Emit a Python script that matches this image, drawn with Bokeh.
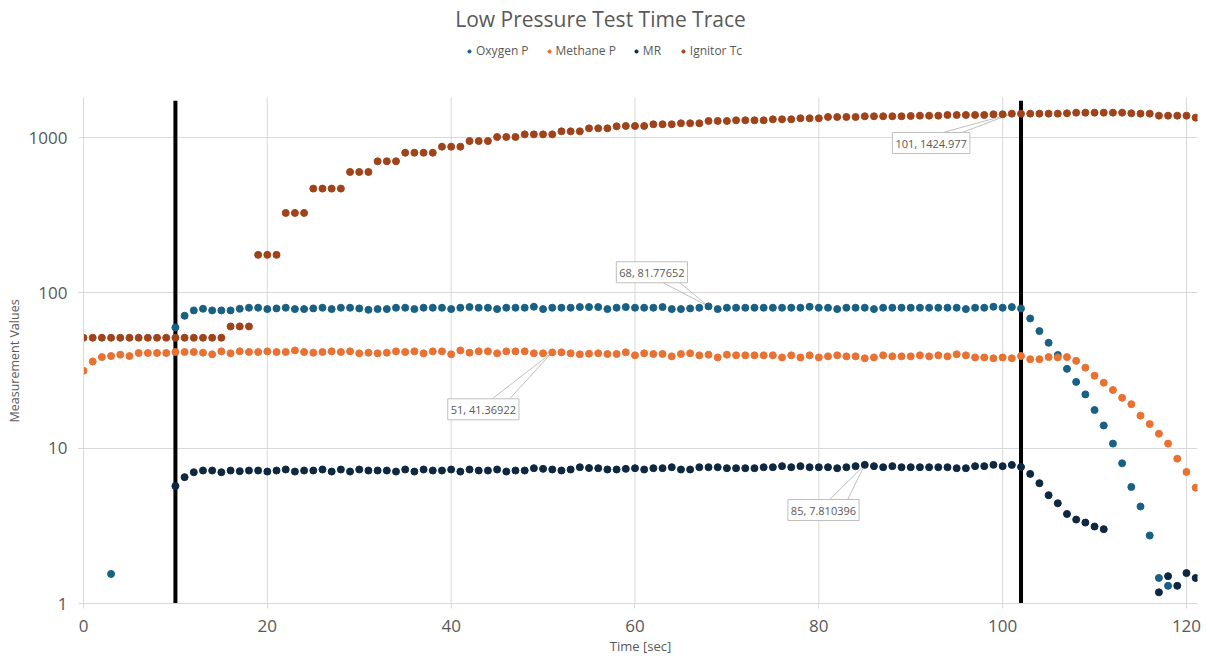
import numpy as np
from bokeh.plotting import figure
from bokeh.models import (FixedTicker, Label, Legend, LegendItem, ColumnDataSource, Title)
from bokeh.embed import file_html
from bokeh.resources import INLINE

nan = float("nan")

# ---------------- data ----------------
time_sec = list(range(122))

oxygen_p = [nan, nan, nan, 1.55, nan, nan, nan, nan, nan, nan,
            59.9, 71.2, 77.1, 79.0, 77.1, 77.1, 77.1, 79.0, 80.2, 80.2,
            78.6, 79.4, 80.2, 78.6, 78.6, 79.4, 80.2, 78.6, 80.2, 80.2,
            79.4, 77.8, 78.6, 78.6, 80.2, 80.2, 78.6, 80.2, 80.2, 80.2,
            78.6, 80.2, 81.0, 80.2, 80.2, 78.6, 80.2, 80.2, 80.2, 81.4,
            78.6, 80.2, 80.2, 80.2, 81.0, 81.0, 81.0, 78.6, 80.2, 81.0,
            80.2, 80.2, 80.2, 81.0, 78.6, 78.6, 79.4, 80.2, 81.77652, 78.6,
            80.2, 80.2, 80.2, 80.2, 80.2, 80.2, 80.2, 80.2, 80.2, 81.4,
            80.2, 80.2, 78.6, 80.2, 80.2, 80.2, 78.6, 80.2, 80.2, 80.2,
            80.2, 80.2, 80.2, 80.2, 80.2, 80.2, 78.6, 80.2, 80.2, 81.4,
            80.2, 81.0, 79.3, 68.4, 56.7, 47.7, 39.8, 32.4, 26.7, 22.2,
            17.6, 14.0, 10.7, 7.99, 5.63, 4.21, 2.74, 1.46, 1.30, nan,
            nan, nan]

methane_p = [31.5, 36.2, 38.6, 39.2, 40.0, 39.2, 41.0, 41.0, 41.0, 41.0,
             41.6, 41.6, 41.6, 41.2, 40.2, 42.0, 40.8, 42.0, 41.6, 41.6,
             42.0, 41.6, 41.6, 42.6, 41.6, 41.2, 41.6, 42.0, 41.6, 42.0,
             40.8, 41.2, 40.8, 41.2, 42.0, 41.6, 42.0, 40.8, 42.0, 42.0,
             40.2, 42.6, 41.2, 42.0, 42.0, 40.8, 42.0, 42.0, 42.0, 40.8,
             40.8, 41.36922, 41.4, 40.8, 40.2, 40.6, 40.8, 40.4, 40.4, 41.4,
             39.6, 40.8, 40.4, 40.4, 39.0, 40.4, 40.8, 39.6, 40.0, 38.4,
             40.0, 39.6, 39.6, 39.6, 39.6, 39.6, 38.4, 39.6, 38.4, 39.6,
             38.4, 39.0, 39.6, 39.0, 39.0, 37.9, 38.4, 39.6, 39.0, 39.0,
             39.0, 39.6, 39.0, 39.6, 39.0, 40.2, 39.6, 38.4, 38.4, 37.9,
             38.4, 37.9, 39.2, 37.4, 37.4, 38.6, 38.4, 38.6, 36.5, 33.0,
             29.3, 26.4, 23.7, 21.1, 19.2, 16.2, 14.3, 12.4, 10.7, 8.56,
             7.03, 5.57]

mr = [nan, nan, nan, nan, nan, nan, nan, nan, nan, nan,
      5.70, 6.51, 7.00, 7.18, 7.18, 7.00, 7.18, 7.11, 7.18, 7.18,
      7.07, 7.18, 7.29, 7.07, 7.18, 7.18, 7.29, 7.07, 7.29, 7.07,
      7.29, 7.18, 7.18, 7.18, 7.07, 7.29, 7.07, 7.29, 7.18, 7.18,
      7.29, 7.07, 7.29, 7.18, 7.18, 7.29, 7.07, 7.18, 7.18, 7.43,
      7.36, 7.29, 7.18, 7.29, 7.54, 7.45, 7.43, 7.29, 7.29, 7.36,
      7.43, 7.29, 7.43, 7.43, 7.54, 7.29, 7.29, 7.54, 7.54, 7.54,
      7.43, 7.43, 7.43, 7.43, 7.54, 7.54, 7.66, 7.54, 7.66, 7.54,
      7.54, 7.54, 7.43, 7.54, 7.66, 7.810396, 7.66, 7.54, 7.66, 7.54,
      7.54, 7.54, 7.54, 7.54, 7.54, 7.43, 7.43, 7.66, 7.66, 7.81,
      7.66, 7.80, 7.57, 6.83, 5.95, 4.98, 4.42, 3.77, 3.47, 3.32,
      3.13, 3.01, nan, nan, nan, nan, nan, 1.18, 1.50, 1.30,
      1.57, 1.46]

ignitor_tc = [51.4, 51.4, 51.4, 51.4, 51.4, 51.4, 51.4, 51.4, 51.4, 51.4,
              51.4, 51.4, 51.4, 51.4, 51.4, 51.4, 60.8, 60.8, 60.8, 175.6,
              175.6, 175.6, 327, 327, 327, 469, 469, 469, 469, 600,
              600, 600, 703, 703, 703, 798, 798, 798, 798, 873,
              873, 873, 949, 949, 949, 1008, 1008, 1008, 1048, 1048,
              1048, 1048, 1096, 1096, 1096, 1146, 1146, 1146, 1180, 1187,
              1187, 1187, 1217, 1217, 1217, 1235, 1235, 1235, 1278, 1278,
              1278, 1291, 1291, 1291, 1291, 1310, 1310, 1310, 1330, 1330,
              1330, 1356, 1356, 1356, 1356, 1370, 1370, 1370, 1370, 1370,
              1376, 1383, 1383, 1383, 1397, 1397, 1397, 1397, 1397, 1411,
              1411, 1424.977, 1425, 1425, 1425, 1425, 1425, 1432, 1446, 1446,
              1446, 1446, 1446, 1446, 1432, 1425, 1425, 1383, 1383, 1383,
              1383, 1343]

series_names = ["Oxygen P", "Methane P", "MR", "Ignitor Tc"]
series_colors = ["#196085", "#E97132", "#0E2841", "#A0431A"]

marker_times = [10, 102]

x_ticks = [0, 20, 40, 60, 80, 100, 120]
y_ticks = [1, 10, 100, 1000]

title_text = "Low Pressure Test Time Trace"
x_label = "Time [sec]"
y_label = "Measurement Values"

# data-label callouts: (time index, series index)
callouts = [(68, 0), (51, 1), (85, 2), (101, 3)]
# pixel offsets of box centre and of wedge base points from the point (screen px, +y down)
callout_box = [(-56.6, -34.2), (-68.9, 56.9), (-41.3, 45.2), (-80.7, 29.4)]
callout_base = [((-48.6, -25.3), (-30.6, -25.3)),
                ((-62.2, 48.1), (-44.2, 48.1)),
                ((-37.0, 36.5), (-18.0, 36.5)),
                ((-72.2, 19.8), (-52.2, 19.8))]

# ---------------- figure ----------------
X_MAX = 121.2
Y_MIN, Y_PLOT_MAX = 1, 1810
W, H = 1206, 659
BL, BR, BT, BB = 83, 9, 0, 56
FRAME_W = W - BL - BR
FRAME_H = H - BT - BB
HEADER = 97                     # px above plot area reserved for title + legend
PLOT_H = FRAME_H - HEADER
px_per_x = FRAME_W / X_MAX
px_per_dec = PLOT_H / (np.log10(Y_PLOT_MAX) - np.log10(Y_MIN))
Y_FRAME_MAX = 10 ** (np.log10(Y_MIN) + FRAME_H / px_per_dec)

FONT = "Open Sans"
GREY = "#595959"
GRID = "#d9d9d9"

p = figure(width=W, height=H, x_range=(0, X_MAX), y_range=(Y_MIN, Y_FRAME_MAX),
           y_axis_type="log", output_backend="svg", toolbar_location=None,
           min_border_left=BL, min_border_right=BR, min_border_bottom=BB,
           min_border_top=BT)
p.title.visible = False

p.outline_line_color = None
p.background_fill_color = "white"
p.border_fill_color = "white"

p.xgrid.visible = False
p.ygrid.ticker = FixedTicker(ticks=y_ticks)
p.ygrid.grid_line_color = GRID
p.ygrid.grid_line_width = 1
p.ygrid.minor_grid_line_color = None
# vertical grid lines limited to the plot area
p.segment(x0=x_ticks, y0=[Y_MIN] * len(x_ticks), x1=x_ticks,
          y1=[Y_PLOT_MAX] * len(x_ticks), line_color=GRID, line_width=1)

p.xaxis.ticker = FixedTicker(ticks=x_ticks)
p.yaxis.ticker = FixedTicker(ticks=y_ticks)
p.yaxis.major_label_overrides = {t: str(t) for t in y_ticks}
p.yaxis.bounds = (Y_MIN, Y_PLOT_MAX)

for ax in (p.xaxis, p.yaxis):
    ax.axis_line_color = GRID
    ax.major_tick_line_color = GRID
    ax.major_tick_out = 5
    ax.major_tick_in = 0
    ax.minor_tick_line_color = None
    ax.major_label_text_font = FONT
    ax.major_label_text_font_size = "17px"
    ax.major_label_text_color = GREY
    ax.axis_label_text_font = FONT
    ax.axis_label_text_font_size = "13px"
    ax.axis_label_text_font_style = "normal"
    ax.axis_label_text_color = GREY

p.xaxis.axis_label = x_label
p.xaxis.major_label_standoff = 11
p.xaxis.axis_label_standoff = 2
p.yaxis.major_label_standoff = 11

# y-axis title placed along the plot area (the frame also holds the header strip)
p.add_layout(Title(text=y_label, align="left", offset=181,
                   text_font=FONT, text_font_size="12.5px", text_font_style="normal",
                   text_color=GREY, standoff=6), "left")

# vertical marker lines
p.segment(x0=marker_times, y0=[Y_MIN] * len(marker_times), x1=marker_times,
          y1=[1725] * len(marker_times), line_color="black", line_width=4)

all_series = [oxygen_p, methane_p, mr, ignitor_tc]

def to_data(xv, yv, dx, dy):
    return xv + dx / px_per_x, yv * 10 ** (-dy / px_per_dec)

wx, wy = [], []
for (ti, si), (b1, b2) in zip(callouts, callout_base):
    xv, yv = time_sec[ti], all_series[si][ti]
    a = to_data(xv, yv, *b1)
    b = to_data(xv, yv, *b2)
    wx.append([a[0], xv, b[0]])
    wy.append([a[1], yv, b[1]])
p.multi_line(xs=wx, ys=wy, line_color="#bfbfbf", line_width=1)

renderers = []
for name, ser, col in zip(series_names, all_series, series_colors):
    src = ColumnDataSource(dict(x=time_sec, y=ser))
    r = p.scatter("x", "y", source=src, size=7, fill_color=col, line_color=col)
    renderers.append(r)

for (ti, si), (dx, dy) in zip(callouts, callout_box):
    xv, yv = time_sec[ti], all_series[si][ti]
    cx, cy = to_data(xv, yv, dx, dy)
    lab = Label(x=cx, y=cy, text=f"{xv}, {yv}", text_align="center", text_baseline="middle",
                text_font=FONT, text_font_size="11px", text_color=GREY,
                border_line_color="#bfbfbf", border_line_width=1,
                background_fill_color="white", padding=3)
    p.add_layout(lab)

# title in the header strip of the frame (screen units from frame bottom-left)
p.add_layout(Label(x=600 - BL, y=FRAME_H - 18, x_units="screen", y_units="screen",
                   text=title_text, text_align="center", text_baseline="middle",
                   text_font=FONT, text_font_size="21px", text_color=GREY))

legend = Legend(items=[LegendItem(label=n, renderers=[r]) for n, r in zip(series_names, renderers)],
                orientation="horizontal", location=(465 - BL, FRAME_H - 59),
                label_text_font=FONT, label_text_font_size="12px", label_text_color=GREY,
                glyph_width=8, glyph_height=8, label_standoff=3, spacing=16,
                padding=0, margin=0, border_line_alpha=0, background_fill_alpha=0)
p.add_layout(legend)

open("out.html", "w").write(file_html(p, INLINE))
